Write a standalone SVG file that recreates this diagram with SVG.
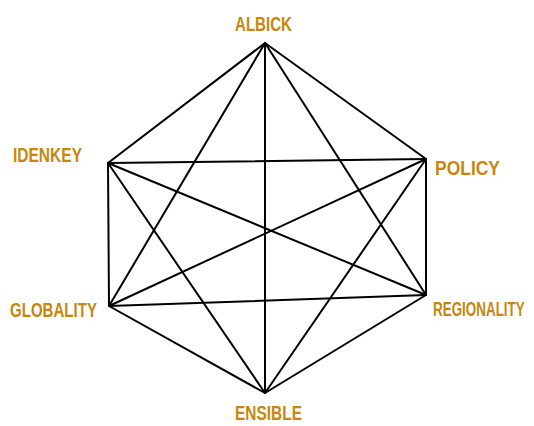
<svg xmlns="http://www.w3.org/2000/svg" width="534" height="426" viewBox="0 0 534 426">
<style>
.e{stroke:#000;stroke-width:2;fill:none;stroke-linecap:round}
.l{font-family:"Liberation Sans",Arial,sans-serif;font-size:21px;fill:#C8860E;font-weight:bold}
</style>
<rect width="534" height="426" fill="#fff"/>
<g id="connectors">
<line class="e" x1="265" y1="43" x2="426" y2="159"/>
<line class="e" x1="426" y1="159" x2="426" y2="295"/>
<line class="e" x1="426" y1="295" x2="265" y2="393"/>
<line class="e" x1="265" y1="393" x2="109" y2="306"/>
<line class="e" x1="109" y1="306" x2="108" y2="163"/>
<line class="e" x1="108" y1="163" x2="265" y2="43"/>
<line class="e" x1="265" y1="43" x2="109" y2="306"/>
<line class="e" x1="265" y1="43" x2="426" y2="295"/>
<line class="e" x1="265" y1="43" x2="265" y2="393"/>
<line class="e" x1="108" y1="163" x2="426" y2="159"/>
<line class="e" x1="108" y1="163" x2="426" y2="295"/>
<line class="e" x1="108" y1="163" x2="265" y2="393"/>
<line class="e" x1="426" y1="159" x2="109" y2="306"/>
<line class="e" x1="426" y1="159" x2="265" y2="393"/>
<line class="e" x1="109" y1="306" x2="426" y2="295"/>
</g>
<g id="n-top"><text class="l" x="235" y="31" textLength="57" lengthAdjust="spacingAndGlyphs">ALBICK</text></g>
<g id="n-tl"><text class="l" x="13" y="162" textLength="69" lengthAdjust="spacingAndGlyphs">IDENKEY</text></g>
<g id="n-tr"><text class="l" x="435" y="175" textLength="65" lengthAdjust="spacingAndGlyphs">POLICY</text></g>
<g id="n-bl"><text class="l" x="10" y="317" textLength="87" lengthAdjust="spacingAndGlyphs">GLOBALITY</text></g>
<g id="n-br"><text class="l" transform="translate(433,316) scale(0.64,1)" x="0" y="0">REGIONALITY</text></g>
<g id="n-bottom"><text class="l" x="235" y="420" textLength="67" lengthAdjust="spacingAndGlyphs">ENSIBLE</text></g>
</svg>
